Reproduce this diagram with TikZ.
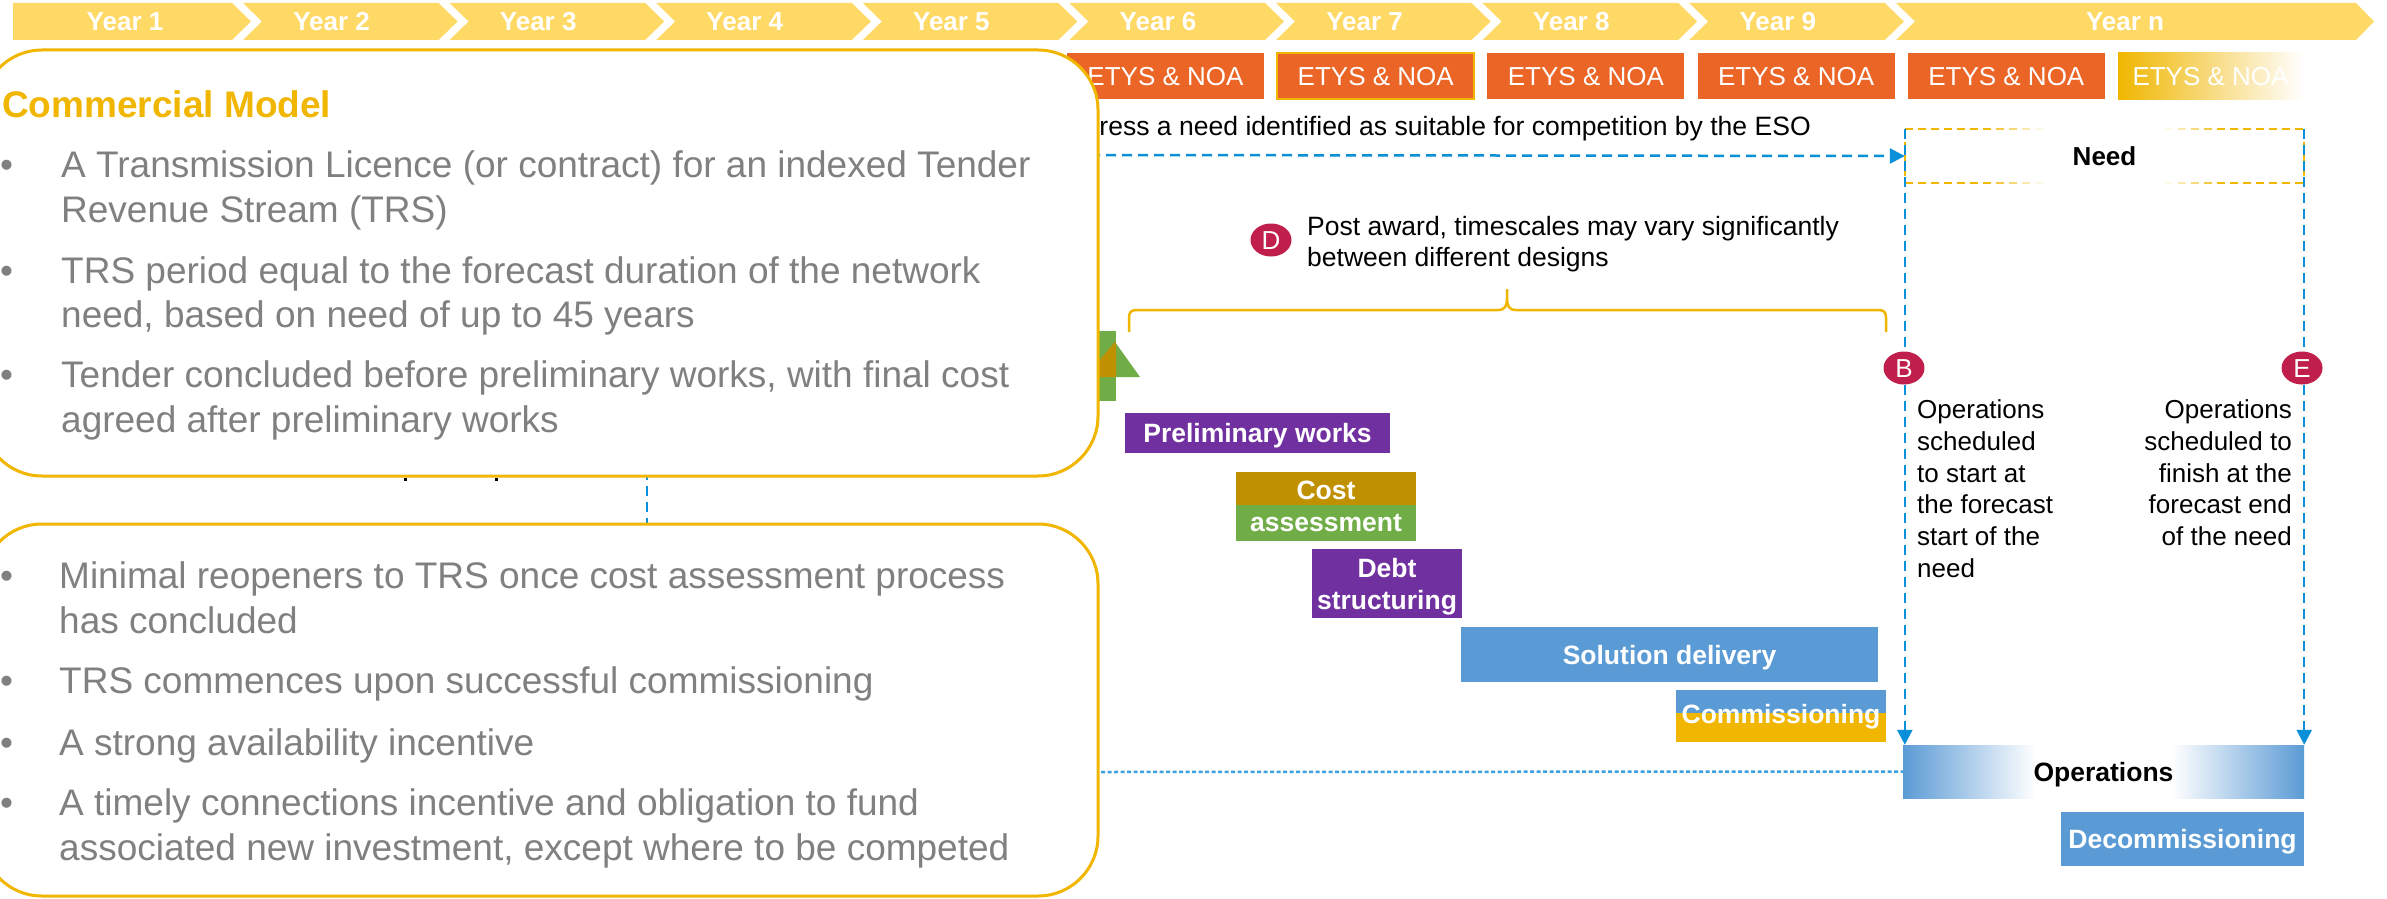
\documentclass[tikz,border=0pt]{standalone}
\usepackage{fontspec}
\setmainfont{Liberation Sans}
\usetikzlibrary{arrows.meta,shapes.geometric}
\definecolor{yearY}{RGB}{255,217,102}
\definecolor{etys}{RGB}{235,101,38}
\definecolor{gold}{RGB}{240,182,0}
\definecolor{txtgray}{RGB}{128,128,128}
\definecolor{purp}{RGB}{112,48,160}
\definecolor{brownG}{RGB}{191,144,0}
\definecolor{greenA}{RGB}{112,173,71}
\definecolor{blueS}{RGB}{91,155,213}
\definecolor{dblue}{RGB}{10,144,216}
\definecolor{lblue}{RGB}{60,160,225}
\definecolor{crim}{RGB}{192,30,75}
\newcommand\myfs[1]{\fontsize{#1pt}{#1pt}\selectfont}
\pgfdeclarehorizontalshading{opsfade}{100bp}{color(0bp)=(blueS); color(25bp)=(blueS); color(41.5bp)=(white); color(58.5bp)=(white); color(75bp)=(blueS); color(100bp)=(blueS)}
\begin{document}
\begin{tikzpicture}[x=1pt,y=-1pt,
  yr/.style={text=white,font=\bfseries\myfs{26},text height=19pt,text depth=0pt,inner sep=0pt},
  etysbox/.style={fill=etys,text=white,font=\myfs{26},minimum width=197pt,minimum height=46pt,inner sep=0pt,text height=19pt,text depth=0pt},
  cbox/.style={draw=gold,line width=3pt,fill=white,rounded corners=60pt,minimum width=1116pt,inner sep=0pt},
  bul/.style={anchor=base west,text=txtgray,font=\myfs{37},inner sep=0pt},
  barnode/.style={text=white,font=\bfseries\myfs{26.5},inner sep=0pt,text height=19pt,text depth=0pt},
  twoline/.style={text=white,font=\bfseries\fontsize{26.5pt}{32pt}\selectfont,align=center,inner sep=0pt},
  blk/.style={text=black,font=\myfs{26},anchor=base west,inner sep=0pt},
  blkr/.style={text=black,font=\myfs{26},anchor=base east,inner sep=0pt},
  badge/.style={ellipse,fill=crim,text=white,font=\myfs{26},minimum width=41pt,minimum height=33pt,inner sep=0pt,text height=19pt,text depth=0pt},
  bdash/.style={dblue,line width=2.5pt,dash pattern=on 10pt off 6pt},
  arrowend/.style={-{Triangle[length=15pt,width=15pt]}}
]
\useasboundingbox (0,0) rectangle (2387,899);
\clip (0,0) rectangle (2387,899);
\fill[white] (0,0) rectangle (2387,899);

% year banner
\fill[yearY] (13,3) -- (232,3) -- (251,21.5) -- (232,40) -- (13,40) -- cycle;
\node[yr] (y1) at (125,21.5) {Year 1};
\foreach \k in {2,...,9}{
  \pgfmathsetmacro\L{243+(\k-2)*206.6}
  \pgfmathsetmacro\R{\L+195.6}
  \fill[yearY] (\L,3) -- (\R,3) -- (\R+19,21.5) -- (\R,40) -- (\L,40) -- (\L+19,21.5) -- cycle;
  \pgfmathsetmacro\C{125+(\k-1)*206.6}
  \node[yr] (y\k) at (\C,21.5) {Year \k};
}
\fill[yearY] (1896,3) -- (2356,3) -- (2374,21.5) -- (2356,40) -- (1896,40) -- (1915,21.5) -- cycle;
\node[yr] (yn) at (2125,21.5) {Year n};

% ETYS row
\node[etysbox] (e6) at (1165.5,76) {ETYS \& NOA};
\node[etysbox,draw=gold,line width=1.5pt] (e7) at (1375.7,76) {ETYS \& NOA};
\node[etysbox] (e8) at (1585.9,76) {ETYS \& NOA};
\node[etysbox] (e9) at (1796.1,76) {ETYS \& NOA};
\node[etysbox] (e10) at (2006.3,76) {ETYS \& NOA};
\node[etysbox,left color=gold,right color=white,minimum width=185pt] (e11) at (2210.5,76) {ETYS \& NOA};

% need and operations nodes
\node[font=\bfseries\myfs{26},text height=19pt,text depth=0pt,inner sep=0pt,minimum width=399pt,minimum height=54pt] (need) at (2104.5,156) {Need};
\node[barnode,text=black,shading=opsfade,minimum width=401pt,minimum height=53pt] (ops) at (2103.5,771.5) {Operations};

% text partly behind box
\node[anchor=base east,font=\myfs{26.55},inner sep=0pt] (addr) at (1811,135) {dress a need identified as suitable for competition by the ESO};
\coordinate (a0) at (1090,155);
\draw[bdash,arrowend] (a0) -- (need.west);

% green / gold arrow
\fill[greenA] (1099,331) rectangle (1116,401);
\fill[greenA] (1115,342) -- (1140,377) -- (1085,377) -- cycle;
\begin{scope}
\clip (1099,331) rectangle (1116,401);
\fill[brownG] (1115,342) -- (1140,377) -- (1085,377) -- cycle;
\end{scope}

% dashed link between the boxes
\coordinate (v1) at (647,470);
\coordinate (v2) at (647,530);
\draw[bdash] (v1) -- (v2);

% commercial boxes
\node[cbox,minimum height=426pt] (cm) at (540,263) {};
\node[cbox,minimum height=372pt] (cmb) at (540,710) {};
\fill[black] (404,477.5) rectangle (406.5,481);
\fill[black] (495,477.5) rectangle (497.5,481);

\node[anchor=base west,text=gold,font=\bfseries\myfs{37},inner sep=0pt] (title) at (2,117) {Commercial Model};
\node[bul] (b1) at (0,177) {•};
\node[bul] (b2) at (0,283) {•};
\node[bul] (b3) at (0,387) {•};
\node[bul] (t1) at (61,177) {A Transmission Licence (or contract) for an indexed Tender};
\node[bul] (t2) at (61,222) {Revenue Stream (TRS)};
\node[bul] (t3) at (61,283) {TRS period equal to the forecast duration of the network};
\node[bul] (t4) at (61,327) {need, based on need of up to 45 years};
\node[bul] (t5) at (61,387) {Tender concluded before preliminary works, with final cost};
\node[bul] (t6) at (61,432) {agreed after preliminary works};

\node[bul] (c1) at (0,588) {•};
\node[bul] (c2) at (0,693) {•};
\node[bul] (c3) at (0,755) {•};
\node[bul] (c4) at (0,815) {•};
\node[bul] (u1) at (59,588) {Minimal reopeners to TRS once cost assessment process};
\node[bul] (u2) at (59,633) {has concluded};
\node[bul] (u3) at (59,693) {TRS commences upon successful commissioning};
\node[bul] (u4) at (59,755) {A strong availability incentive};
\node[bul] (u5) at (59,815) {A timely connections incentive and obligation to fund};
\node[bul] (u6) at (59,860) {associated new investment, except where to be competed};

% brace and note D
\draw[gold,line width=2.5pt] (1129,332) -- (1129,318) .. controls (1129,312) and (1131,310) .. (1137,310) -- (1498,310) .. controls (1505,310) and (1507,306) .. (1507,298) -- (1507,289);
\draw[gold,line width=2.5pt] (1886,332) -- (1886,318) .. controls (1886,312) and (1884,310) .. (1878,310) -- (1516,310) .. controls (1509,310) and (1507,306) .. (1507,298);
\node[badge] (D) at (1271,240) {D};
\node[blk,font=\myfs{26.5}] (p1) at (1307,235) {Post award, timescales may vary significantly};
\node[blk,font=\myfs{26.5}] (p2) at (1307,266) {between different designs};

% bars
\node[barnode,fill=purp,minimum width=265pt,minimum height=40pt] (prelim) at (1257.5,433) {Preliminary works};
\fill[brownG] (1236,472) rectangle (1416,505);
\fill[greenA] (1236,505) rectangle (1416,541);
\node[twoline] (cost) at (1326,506.5) {Cost\\assessment};
\fill[purp] (1312,549) rectangle (1462,618);
\node[twoline] (debt) at (1387,587) {Debt\\structuring};
\node[barnode,fill=blueS,minimum width=417pt,minimum height=55pt] (sol) at (1669.5,654.5) {Solution delivery};
\fill[blueS] (1676,690) rectangle (1886,713);
\fill[gold] (1676,713) rectangle (1886,742);
\node[barnode] (comm) at (1781,713.5) {Commissioning};
\node[barnode,fill=blueS,minimum width=243pt,minimum height=54pt] (decom) at (2182.5,839) {Decommissioning};

% need box border (fading dashes)
\foreach \s in {1905,1918,...,2295}{
  \pgfmathtruncatemacro\ff{max(0,min(100,100*(140-min(\s+4-1905,2300-\s))/60))}
  \ifnum\ff>0
    \draw[gold!\ff!white,line width=2.5pt] (\s,129) -- (\s+8,129) (\s,183) -- (\s+8,183);
  \fi
}
\draw[gold,line width=2.5pt,dash pattern=on 8pt off 5pt] (need.north west) -- (need.south west);
\draw[gold,line width=2.5pt,dash pattern=on 8pt off 5pt] (need.north east) -- (need.south east);

% vertical arrows
\draw[bdash,arrowend] (need.north west) -- (need.north west |- ops.north);
\draw[bdash,arrowend] (need.north east) -- (need.north east |- ops.north);
\node[badge] (B) at (1904,368) {B};
\node[badge] (E) at (2302,368) {E};

\node[blk] (bt1) at (1917,418) {Operations};
\node[blk] (bt2) at (1917,450) {scheduled};
\node[blk] (bt3) at (1917,482) {to start at};
\node[blk] (bt4) at (1917,513) {the forecast};
\node[blk] (bt5) at (1917,545) {start of the};
\node[blk] (bt6) at (1917,577) {need};
\node[blkr] (et1) at (2292,418) {Operations};
\node[blkr] (et2) at (2292,450) {scheduled to};
\node[blkr] (et3) at (2292,482) {finish at the};
\node[blkr] (et4) at (2292,513) {forecast end};
\node[blkr] (et5) at (2292,545) {of the need};

% dotted link to operations
\coordinate (d0) at (1101,772);
\draw[lblue,line width=2.5pt,dash pattern=on 4pt off 2.5pt] (d0) -- (ops.west);
\end{tikzpicture}
\end{document}
